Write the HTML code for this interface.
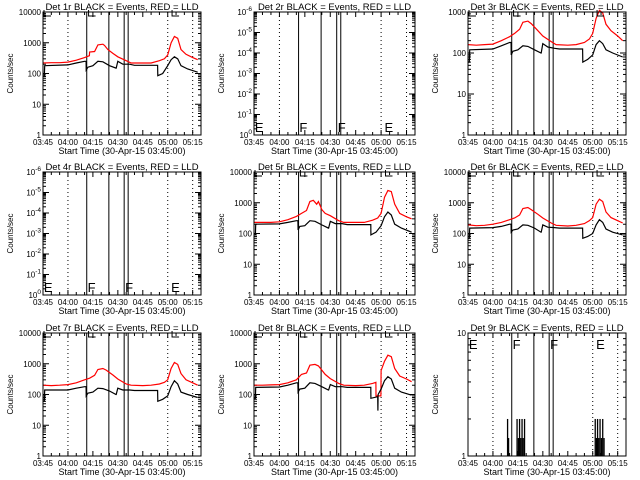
<!DOCTYPE html>
<html><head><meta charset="utf-8"><style>
html,body{margin:0;padding:0;background:#fff;}
svg{display:block;font-family:"Liberation Sans",sans-serif;}
</style></head><body>
<svg id="c" width="640" height="480" viewBox="0 0 640 480" xmlns="http://www.w3.org/2000/svg"></svg>
<script>
// ---- data ----
const xTickLabels = ["03:45","04:00","04:15","04:30","04:45","05:00","05:15"];
const tSpan = 95;
const dottedTimes = [15,75,90];
const solidTimes = [26.3,39.6,48.8,51.2];
const markerLetters = ["E","F","F","E"];
const markerTimes = [0.5,26.8,49.4,77];
const titles = ["Det 1r","Det 2r","Det 3r","Det 4r","Det 5r","Det 6r","Det 7r","Det 8r","Det 9r"];

const p1RedT = [0,5,10,15,20,25,27.9,28,31,33,36,37,39,42,45,50,53,60,65,70,73,75,77,79,81,83,86,90,93];
const p1RedV = [220,225,225,235,270,330,380,500,520,850,900,820,600,450,350,260,220,220,220,260,300,400,1000,1600,1400,600,420,330,280];
const p1BlkT = [0,0.8,1,15,20,25,25.9,26,27,30,33,36,40,43.9,44,45,48,52,55,68,68.9,69,72,75,77,79,81,83,87,93];
const p1BlkV = [80,80,180,190,220,250,250,130,160,180,250,240,180,150,150,250,200,200,185,185,185,85,100,180,280,350,300,180,140,110];

const p3RedT = [0,5,10,15,20,25,28,31,33,36,38,42,45,50,53,60,65,70,73,75,77,79,81,83,86,90,93];
const p3RedV = [160,155,160,165,200,250,300,380,560,600,520,350,260,190,160,155,160,180,220,300,700,1100,950,500,350,260,200];
const p3BlkT = [0,0.8,1,15,20,25,25.9,26,27,30,33,36,40,43.9,44,45,48,52,55,68,68.9,69,72,75,77,79,81,83,87,93];
const p3BlkV = [60,60,120,125,150,180,180,90,110,120,150,145,120,100,100,170,140,130,125,125,125,60,70,90,160,200,170,120,100,80];

const p5RedT = [0,5,10,15,20,25,28,31,33,35,37,38,40,42,45,50,53,60,65,70,73,75,77,79,81,83,86,90,93];
const p5RedV = [230,230,230,240,280,360,450,560,1100,1200,900,1100,600,450,380,260,230,230,230,270,320,450,1500,2500,2300,900,450,350,300];
const p5BlkT = [0,0.8,1,15,20,25,25.9,26,27,30,33,36,40,43.9,44,45,48,52,55,68,68.9,69,72,75,77,79,81,83,87,93];
const p5BlkV = [90,90,200,205,230,260,260,130,170,180,260,250,190,150,150,250,210,210,195,195,195,90,110,180,350,500,400,200,150,110];

const p6RedT = [0,5,10,15,20,25,28,31,33,36,38,42,45,50,53,60,65,70,73,75,77,79,81,83,86,90,93];
const p6RedV = [190,180,185,200,230,280,320,400,650,700,600,420,320,220,185,175,185,210,260,330,900,1300,1100,500,330,260,220];
const p6BlkT = [0,0.8,1,15,20,25,25.9,26,27,30,33,36,40,43.9,44,45,48,52,55,68,68.9,69,72,75,77,79,81,83,87,93];
const p6BlkV = [70,70,150,155,170,200,200,110,130,140,190,185,150,110,110,190,160,155,150,150,150,70,80,100,190,280,230,140,110,90];

const p7RedT = [0,5,10,15,20,25,28,31,33,36,38,42,45,50,53,60,65,70,73,75,77,79,81,83,86,90,93];
const p7RedV = [200,195,200,210,240,300,340,420,650,700,620,430,320,220,200,195,200,220,250,300,700,1100,950,480,300,240,200];
const p7BlkT = [0,0.8,1,15,20,25,25.9,26,27,30,33,36,40,43.9,44,45,48,52,55,68,68.9,69,72,75,77,79,81,83,87,93];
const p7BlkV = [60,60,140,140,160,180,180,90,110,120,160,155,130,100,100,160,140,140,135,135,135,60,70,90,180,280,220,120,100,80];

const p8RedT = [0,5,10,15,20,25,28,31,33,36,38,42,45,50,53,60,65,70,71.9,72,74.9,75,77,79,81,83,86,90,93];
const p8RedV = [200,200,205,210,240,300,450,500,900,950,850,450,330,230,200,195,200,230,250,90,90,600,1200,1900,1700,700,400,320,260];
const p8BlkT = [0,0.8,1,15,20,25,25.9,26,27,30,33,36,40,43.9,44,45,48,52,55,68,68.9,69,73,73.1,73.2,75,77,79,81,83,87,93];
const p8BlkV = [75,75,170,175,200,240,240,120,150,160,240,230,180,140,140,210,180,180,170,170,170,75,85,30,100,150,280,380,320,160,120,95];

const p9SpikeT = [23.8,24.4,29.5,30.3,31,31.7,32.5,33.2,34,76.5,77.2,77.9,78.6,79.4,80.2,81,81.8];
const p9SpikeV = [2,1.4,2,1.4,2,1.4,2,1.4,2,2,1.4,2,1.4,2,1.4,2,1.4];

// ---- layout ----
const colX=[43,254,468], colW=[158,161,158], rowY=[12,172,333], boxH=123;
const S=document.getElementById('c');
const NS="http://www.w3.org/2000/svg";
function mk(tag,attrs,parent){const e=document.createElementNS(NS,tag);for(const k in attrs)e.setAttribute(k,attrs[k]);(parent||S).appendChild(e);return e;}

function panel(i,ymin,ymax,series,opts){
  const r=Math.floor(i/3),c=i%3;
  const x0=colX[c],w=colW[c],y0=rowY[r],h=boxH;
  const g=mk('g',{});
  
  
  const X=t=>x0+t/tSpan*w;
  const lmin=Math.log10(ymin),lmax=Math.log10(ymax);
  const Y=v=>y0+h-(Math.log10(Math.max(v,ymin*0.5))-lmin)/(lmax-lmin)*h;
  const ti=mk('text',{x:x0+w/2,y:y0-2,'text-anchor':'middle','font-size':'9.5'},g);
  ti.textContent=titles[i]+" BLACK = Events, RED = LLD";
  
  
  const yl=mk('text',{x:0,y:0,'text-anchor':'middle','font-size':'8',transform:`translate(${x0-30},${y0+h/2}) rotate(-90)`},g);
  yl.textContent="Counts/sec";
  
  
  const xl=mk('text',{x:x0+w/2,y:y0+h+19,'text-anchor':'middle','font-size':'9'},g);
  xl.textContent="Start Time (30-Apr-15 03:45:00)";
  
  
  xTickLabels.forEach((lab,k)=>{
    const x=X(k*15);
    mk('line',{x1:x,x2:x,y1:y0+h,y2:y0+h-5,stroke:'#000'},g);
    mk('line',{x1:x,x2:x,y1:y0,y2:y0+5,stroke:'#000'},g);
    const tx=mk('text',{x:x,y:y0+h+10,'text-anchor':'middle','font-size':'8'},g);
    tx.textContent=lab;
    
    
  });
  for(let t=5;t<tSpan;t+=5){if(t%15){mk('line',{x1:X(t),x2:X(t),y1:y0+h,y2:y0+h-3,stroke:'#000'},g);mk('line',{x1:X(t),x2:X(t),y1:y0,y2:y0+3,stroke:'#000'},g);}}
  const dec=Math.round(lmax-lmin);
  for(let d=0;d<=dec;d++){
    const v=Math.pow(10,lmin+d),y=Y(v);
    mk('line',{x1:x0,x2:x0+6,y1:y,y2:y,stroke:'#000'},g);
    mk('line',{x1:x0+w,x2:x0+w-6,y1:y,y2:y,stroke:'#000'},g);
    const tx=mk('text',{x:x0-2,y:y+3,'text-anchor':'end','font-size':'8'},g);
    if(opts.fake){tx.textContent="10";const s=mk('tspan',{dy:-4,'font-size':'6.5'},tx);s.textContent=(d==0?"0":"-"+d);}
    else tx.textContent=String(Math.round(v));
    
    
    if(d<dec)for(let m=2;m<10;m++){const ym=Y(v*m);mk('line',{x1:x0,x2:x0+3,y1:ym,y2:ym,stroke:'#000'},g);mk('line',{x1:x0+w,x2:x0+w-3,y1:ym,y2:ym,stroke:'#000'},g);}
  }
  dottedTimes.forEach(t=>mk('line',{x1:X(t),x2:X(t),y1:y0,y2:y0+h,stroke:'#000','stroke-dasharray':'1,3'},g));
  solidTimes.forEach(t=>mk('line',{x1:X(t),x2:X(t),y1:y0,y2:y0+h,stroke:'#000'},g));
  series.forEach(s=>{
    const d=s.t.map((t,k)=>(k?'L':'M')+X(t).toFixed(1)+','+Y(s.v[k]).toFixed(1)).join('');
    const p=mk('path',{d:d,fill:'none',stroke:s.col,'stroke-width':'1.2'},g);
    
    
  });
  if(opts.spikes){
    opts.spikes.t.forEach((t,k)=>{
      const b=mk('line',{x1:X(t),x2:X(t),y1:y0+h,y2:Y(opts.spikes.v[k]),stroke:'#000','stroke-width':'1.3'},g);
      
      
    });
  }
  if(opts.letters){
    markerLetters.forEach((L,k)=>{
      const tx=mk('text',{x:X(markerTimes[k]),y:opts.letters=='top'?y0+16:y0+h-3,'font-size':'13'},g);
      tx.textContent=L;
      
      
    });
  } else {
    [0,26.8,77].forEach(t=>mk('path',{d:`M${X(t)+8},${y0+4}H${X(t)+1}V${y0-2}`,fill:'none',stroke:'#000'},g));
  }
  mk('rect',{x:x0,y:y0,width:w,height:h,fill:'none',stroke:'#000'},g);
}
const blk='#000',red='#f00';
panel(0,1,10000,[{t:p1RedT,v:p1RedV,col:red},{t:p1BlkT,v:p1BlkV,col:blk}],{});
panel(1,1,1e6,[],{fake:true,letters:'bottom'});
panel(2,1,1000,[{t:p3RedT,v:p3RedV,col:red},{t:p3BlkT,v:p3BlkV,col:blk}],{});
panel(3,1,1e6,[],{fake:true,letters:'bottom'});
panel(4,1,10000,[{t:p5RedT,v:p5RedV,col:red},{t:p5BlkT,v:p5BlkV,col:blk}],{});
panel(5,1,10000,[{t:p6RedT,v:p6RedV,col:red},{t:p6BlkT,v:p6BlkV,col:blk}],{});
panel(6,1,10000,[{t:p7RedT,v:p7RedV,col:red},{t:p7BlkT,v:p7BlkV,col:blk}],{});
panel(7,1,10000,[{t:p8RedT,v:p8RedV,col:red},{t:p8BlkT,v:p8BlkV,col:blk}],{});
panel(8,1,10,[],{spikes:{t:p9SpikeT,v:p9SpikeV},letters:'top'});
</script>
</body></html>
